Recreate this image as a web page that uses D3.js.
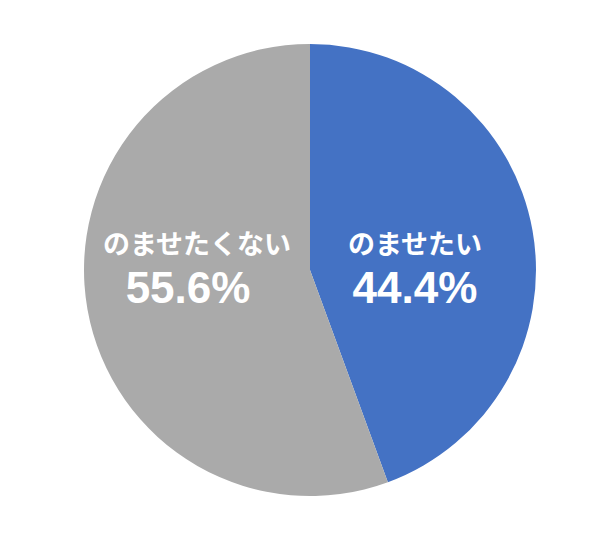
<!DOCTYPE html>
<html><head><meta charset="utf-8">
<script src="https://cdn.jsdelivr.net/npm/d3@7"></script>
<style>body{margin:0;background:#fff}</style>
</head><body>
<svg id="c" width="600" height="534"></svg>
<script>
const categories = ["のませたい", "のませたくない"];
const values = [44.4, 55.6];
const labels = ["44.4%", "55.6%"];
const colors = ["#4472C4", "#AAAAAA"];

const svg = d3.select("#c");
const cx = 310, cy = 270, r = 226;
const g = svg.append("g").attr("transform", `translate(${cx},${cy})`);
const pie = d3.pie().sort(null).value(d => d)(values);
const arc = d3.arc().innerRadius(0).outerRadius(r);
g.selectAll("path").data(pie).enter().append("path")
  .attr("d", arc).attr("fill", (d,i) => colors[i]);

// label positions (offsets relative to centre)
const labelPos = [{x: 105, y1: -16, y2: 33}, {x: -113, y1: -16, y2: 33}];
const numX = [0, -9];
g.selectAll("text.cat").data(pie).enter().append("text")
  .attr("x", (d,i) => labelPos[i].x).attr("y", (d,i) => labelPos[i].y1)
  .attr("text-anchor", "middle").attr("fill", "#fff")
  .attr("font-family", "'Noto Sans CJK JP', sans-serif").attr("font-weight", "bold")
  .attr("font-size", 27).text((d,i) => categories[i]);
g.selectAll("text.val").data(pie).enter().append("text")
  .attr("x", (d,i) => labelPos[i].x + numX[i]).attr("y", (d,i) => labelPos[i].y2)
  .attr("text-anchor", "middle").attr("fill", "#fff")
  .attr("font-family", "'Liberation Sans', Arial, sans-serif").attr("font-weight", "bold")
  .attr("font-size", 44).text((d,i) => labels[i]);
</script>
</body></html>
